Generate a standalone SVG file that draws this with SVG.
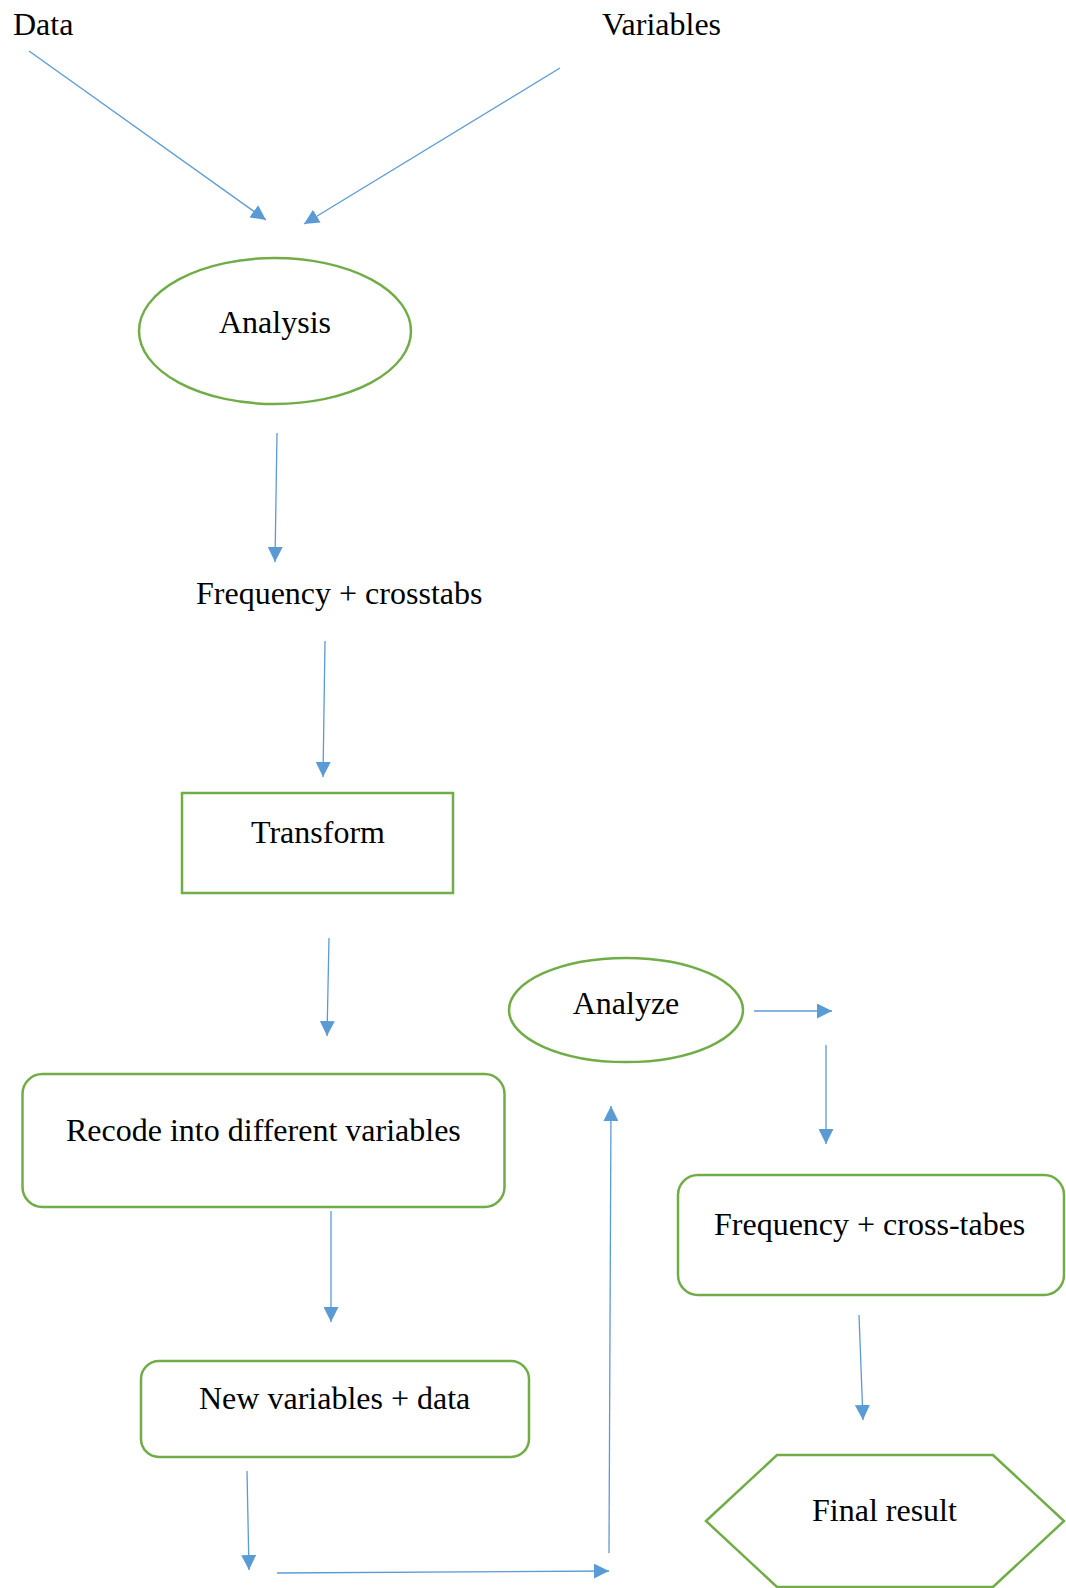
<svg xmlns="http://www.w3.org/2000/svg" width="1066" height="1588" viewBox="0 0 1066 1588">
<style>
text{font-family:"Liberation Serif","Times New Roman",serif;font-size:32px;fill:#000}
.node{fill:none;stroke:#70AD47;stroke-width:2.5}
.conn{stroke:#5B9BD5;stroke-width:1.3;fill:none;marker-end:url(#ah)}
</style>
<defs>
<marker id="ah" markerUnits="userSpaceOnUse" markerWidth="15" markerHeight="15" refX="15" refY="7.5" orient="auto" viewBox="0 0 15 15">
<path d="M0,0 L15,7.5 L0,15 z" fill="#5B9BD5"/>
</marker>
</defs>
<rect width="1066" height="1588" fill="#fff"/>
<g id="data"><text x="13" y="35">Data</text></g>
<g id="variables"><text x="602" y="35">Variables</text></g>
<g id="analysis"><ellipse class="node" cx="275" cy="331" rx="136" ry="73"/><text x="275" y="333" text-anchor="middle">Analysis</text></g>
<g id="freq1"><text x="196" y="604">Frequency + crosstabs</text></g>
<g id="transform"><rect class="node" x="182" y="793" width="271" height="100"/><text x="318" y="843" text-anchor="middle">Transform</text></g>
<g id="recode"><rect class="node" x="22.5" y="1074" width="482" height="133" rx="20"/><text x="66" y="1141">Recode into different variables</text></g>
<g id="analyze"><ellipse class="node" cx="626" cy="1010" rx="117" ry="52"/><text x="626" y="1014" text-anchor="middle">Analyze</text></g>
<g id="freq2"><rect class="node" x="678" y="1175" width="386" height="120" rx="20"/><text x="714" y="1235">Frequency + cross-tabes</text></g>
<g id="newvars"><rect class="node" x="141" y="1361" width="388" height="96" rx="18"/><text x="199" y="1409">New variables + data</text></g>
<g id="final"><polygon class="node" points="706,1521 777,1455 993,1455 1064,1521 993,1587 777,1587"/><text x="812" y="1521">Final result</text></g>
<g id="connectors">
<line class="conn" x1="29" y1="51" x2="266" y2="220"/>
<line class="conn" x1="560" y1="68" x2="304" y2="224"/>
<line class="conn" x1="277" y1="433" x2="275" y2="562"/>
<line class="conn" x1="325" y1="641" x2="323" y2="777"/>
<line class="conn" x1="329" y1="938" x2="327" y2="1036"/>
<line class="conn" x1="331" y1="1211" x2="331" y2="1322"/>
<line class="conn" x1="247" y1="1471" x2="249" y2="1570"/>
<line class="conn" x1="277" y1="1573" x2="609" y2="1571"/>
<line class="conn" x1="609" y1="1553" x2="611" y2="1106"/>
<line class="conn" x1="754" y1="1011" x2="832" y2="1011"/>
<line class="conn" x1="826" y1="1045" x2="826" y2="1144"/>
<line class="conn" x1="859" y1="1315" x2="863" y2="1420"/>
</g>
</svg>
